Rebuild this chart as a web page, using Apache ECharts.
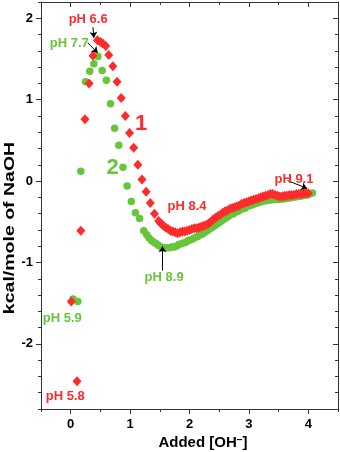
<!DOCTYPE html>
<html>
<head>
<meta charset="utf-8">
<script src="https://cdn.jsdelivr.net/npm/echarts@6/dist/echarts.min.js"></script>
<style>
html,body{margin:0;padding:0;background:#fff;}
#chart{width:340px;height:452px;}
</style>
</head>
<body>
<div id="chart"></div>
<script>
// ---- data ----
const xMajorTicks = [0, 1, 2, 3, 4];
const xMinorTicks = [-0.5, 0.5, 1.5, 2.5, 3.5, 4.5];
const yMajorTicks = [-2, -1, 0, 1, 2];
const yMinorTicks = [-2.8, -2.6, -2.4, -2.2, -1.8, -1.6, -1.4, -1.2, -0.8, -0.6, -0.4, -0.2,
                     0.2, 0.4, 0.6, 0.8, 1.2, 1.4, 1.6, 1.8, 2.2];

// series 1 (red diamonds)
const series1 = [
  [0.01,-1.48],[0.106,-2.46],[0.17,-0.61],[0.24,0.76],[0.31,1.20],[0.375,1.54],
  [0.45,1.73],[0.50,1.71],[0.54,1.69],[0.59,1.66],[0.64,1.55],[0.71,1.41],
  [0.78,1.22],[0.85,1.02],[0.92,0.80],[0.99,0.59],[1.06,0.41],[1.13,0.20],
  [1.20,0.02],[1.27,-0.13],[1.34,-0.27],[1.41,-0.40],[1.48,-0.49],
  [1.52,-0.52],[1.56,-0.55],[1.60,-0.57],[1.64,-0.59],[1.68,-0.61],[1.72,-0.62],
  [1.76,-0.63],[1.80,-0.64],[1.84,-0.63],[1.88,-0.62],[1.92,-0.62],[1.96,-0.61],
  [2.00,-0.60],[2.04,-0.59],[2.08,-0.58],[2.12,-0.58],[2.16,-0.57],[2.20,-0.56],
  [2.24,-0.55],[2.28,-0.54],[2.32,-0.52],[2.36,-0.50],[2.40,-0.47],[2.44,-0.45],
  [2.48,-0.43],[2.52,-0.41],[2.56,-0.39],[2.60,-0.37],[2.64,-0.36],[2.68,-0.34],
  [2.72,-0.33],[2.76,-0.32],[2.80,-0.31],[2.84,-0.30],[2.88,-0.28],[2.92,-0.27],
  [2.96,-0.26],[3.00,-0.25],[3.04,-0.24],[3.08,-0.23],[3.12,-0.22],[3.16,-0.21],
  [3.20,-0.20],[3.24,-0.19],[3.28,-0.18],[3.32,-0.17],[3.36,-0.16],[3.40,-0.16],
  [3.44,-0.17],[3.48,-0.18],[3.52,-0.19],[3.56,-0.19],[3.60,-0.18],[3.64,-0.18],
  [3.68,-0.17],[3.72,-0.17],[3.76,-0.17],[3.80,-0.16],[3.84,-0.16],[3.88,-0.16],
  [3.92,-0.15],[3.96,-0.15],[4.00,-0.15]
];

// series 2 (green circles)
const series2 = [
  [0.04,-1.45],[0.12,-1.48],[0.17,0.12],[0.25,1.22],[0.32,1.35],[0.39,1.44],
  [0.46,1.53],[0.53,1.36],[0.60,1.24],[0.67,0.95],[0.74,0.65],[0.81,0.44],
  [0.88,0.17],[0.95,-0.06],[1.02,-0.25],[1.09,-0.39],[1.16,-0.46],[1.23,-0.61],
  [1.28,-0.66],[1.32,-0.70],[1.36,-0.73],[1.40,-0.75],[1.44,-0.77],[1.48,-0.79],
  [1.52,-0.81],[1.57,-0.82],[1.61,-0.82],[1.65,-0.82],[1.70,-0.81],[1.74,-0.81],
  [1.78,-0.80],[1.82,-0.78],[1.86,-0.77],[1.90,-0.76],[1.94,-0.75],[1.98,-0.73],
  [2.02,-0.72],[2.06,-0.71],[2.10,-0.69],[2.14,-0.68],[2.18,-0.66],[2.22,-0.65],
  [2.26,-0.63],[2.30,-0.61],[2.34,-0.59],[2.38,-0.57],[2.42,-0.55],[2.46,-0.53],
  [2.50,-0.51],[2.54,-0.49],[2.58,-0.47],[2.62,-0.45],[2.66,-0.43],[2.70,-0.41],
  [2.74,-0.40],[2.78,-0.38],[2.82,-0.37],[2.86,-0.35],[2.90,-0.34],[2.94,-0.33],
  [2.98,-0.31],[3.02,-0.30],[3.06,-0.29],[3.10,-0.28],[3.14,-0.27],[3.18,-0.26],
  [3.22,-0.25],[3.26,-0.245],[3.30,-0.24],[3.34,-0.235],[3.38,-0.23],[3.42,-0.225],
  [3.46,-0.225],[3.50,-0.225],[3.54,-0.22],[3.58,-0.22],[3.62,-0.215],[3.66,-0.21],
  [3.70,-0.205],[3.74,-0.20],[3.78,-0.195],[3.82,-0.19],[3.86,-0.185],[3.90,-0.18],
  [3.94,-0.175],[3.98,-0.17],[4.02,-0.16],[4.07,-0.145]
];

// annotations (data coordinates)
const phLabels = [
  { text: 'pH 6.6', s: 1, at: [-0.034, 1.985] },
  { text: 'pH 7.7', s: 2, at: [-0.353, 1.69] },
  { text: 'pH 8.4', s: 1, at: [1.63, -0.313] },
  { text: 'pH 8.9', s: 2, at: [1.244, -1.186] },
  { text: 'pH 5.9', s: 2, at: [-0.47, -1.69] },
  { text: 'pH 5.8', s: 1, at: [-0.42, -2.65] },
  { text: 'pH 9.1', s: 1, at: [3.43, 0.018] }
];
const seriesNumbers = [
  { text: '1', s: 1, at: [1.185, 0.707] },
  { text: '2', s: 2, at: [0.706, 0.166] }
];
const arrows = [
  [[0.375, 1.89], [0.39, 1.76]],
  [[0.286, 1.70], [0.454, 1.575]],
  [[1.546, -1.10], [1.546, -0.80]],
  [[3.65, 0.006], [3.98, -0.09]]
];

// ---- styles ----
const RED = '#ff2b2b';
const GREEN = '#66c63a';
const FONT = '"Liberation Sans", Arial, sans-serif';
const AXIS_COLOR = '#333';
const colorOf = s => (s === 1 ? RED : GREEN);

function axisX(position, ticks, len, inside, showLine, showLabel) {
  return {
    type: 'value', position, min: -0.5, max: 4.5,
    axisLine: { show: showLine, onZero: false, lineStyle: { color: AXIS_COLOR, width: 1 } },
    axisTick: { show: true, customValues: ticks, length: len, inside, lineStyle: { color: AXIS_COLOR, width: 1 } },
    axisLabel: showLabel ? { show: true, customValues: ticks, margin: 9, color: '#000',
      fontWeight: 'bold', fontSize: 13, fontFamily: FONT } : { show: false },
    splitLine: { show: false }, minorTick: { show: false }
  };
}
function axisY(position, ticks, len, inside, showLine, showLabel) {
  return {
    type: 'value', position, min: -2.8, max: 2.2,
    axisLine: { show: showLine, onZero: false, lineStyle: { color: AXIS_COLOR, width: 1 } },
    axisTick: { show: true, customValues: ticks, length: len, inside, lineStyle: { color: AXIS_COLOR, width: 1 } },
    axisLabel: showLabel ? { show: true, customValues: ticks, margin: 8, color: '#000',
      fontWeight: 'bold', fontSize: 13, fontFamily: FONT } : { show: false },
    splitLine: { show: false }, minorTick: { show: false }
  };
}

const chart = echarts.init(document.getElementById('chart'), null, { renderer: 'canvas' });
chart.setOption({
  animation: false,
  backgroundColor: '#fff',
  grid: { left: 41, top: 2, width: 297, height: 407, containLabel: false, outerBoundsMode: 'none' },
  xAxis: [
    axisX('bottom', xMajorTicks, 5, false, true, true),
    axisX('bottom', xMinorTicks, 3, false, false, false),
    axisX('top', xMajorTicks, 5, true, true, false),
    axisX('top', xMinorTicks, 3, true, false, false)
  ],
  yAxis: [
    axisY('left', yMajorTicks, 5, false, true, true),
    axisY('left', yMinorTicks, 3, false, false, false),
    axisY('right', yMajorTicks, 5, true, true, false),
    axisY('right', yMinorTicks, 3, true, false, false)
  ],
  series: [
    {
      type: 'scatter', name: '2', data: series2, xAxisIndex: 0, yAxisIndex: 0,
      symbol: 'circle', symbolSize: 7.5, itemStyle: { color: GREEN, opacity: 1 }, silent: true, z: 2
    },
    {
      type: 'scatter', name: '1', data: series1, xAxisIndex: 0, yAxisIndex: 0,
      symbol: 'diamond', symbolSize: [9, 10], itemStyle: { color: RED, opacity: 1 }, silent: true, z: 3,
      markLine: {
        silent: true, animation: false,
        symbol: ['none', 'arrow'], symbolSize: 6,
        label: { show: false },
        lineStyle: { color: '#000', width: 1, type: 'solid', opacity: 1 },
        emphasis: { disabled: true },
        data: arrows.map(a => [{ coord: a[0] }, { coord: a[1] }])
      }
    }
  ]
});

const graphics = [];
phLabels.forEach(l => {
  const p = chart.convertToPixel({ xAxisIndex: 0, yAxisIndex: 0 }, l.at);
  graphics.push({
    type: 'text', x: p[0], y: p[1], silent: true, z: 10,
    style: { text: l.text, fill: colorOf(l.s), font: 'bold 13px ' + FONT,
      textAlign: 'left', textVerticalAlign: 'middle' }
  });
});
seriesNumbers.forEach(l => {
  const p = chart.convertToPixel({ xAxisIndex: 0, yAxisIndex: 0 }, l.at);
  graphics.push({
    type: 'text', x: p[0], y: p[1], silent: true, z: 10,
    style: { text: l.text, fill: colorOf(l.s), font: 'bold 22px ' + FONT,
      textAlign: 'center', textVerticalAlign: 'middle' }
  });
});
// y axis title
graphics.push({
  type: 'text', x: 10, y: 228, rotation: Math.PI / 2, scaleX: 1.3, silent: true,
  style: { text: 'kcal/mole of NaOH', fill: '#000', font: 'bold 15px ' + FONT,
    textAlign: 'center', textVerticalAlign: 'middle' }
});
// x axis title
graphics.push({
  type: 'text', x: 203, y: 443, silent: true,
  style: {
    text: '{a|Added [OH}{s|−}{a|]}',
    textAlign: 'center', textVerticalAlign: 'middle',
    rich: {
      a: { fontSize: 15, fontWeight: 'bold', fontFamily: FONT, fill: '#000', color: '#000' },
      s: { fontSize: 10, fontWeight: 'bold', fontFamily: FONT, fill: '#000', color: '#000', verticalAlign: 'top' }
    }
  }
});
chart.setOption({ graphic: graphics });
</script>
</body>
</html>
